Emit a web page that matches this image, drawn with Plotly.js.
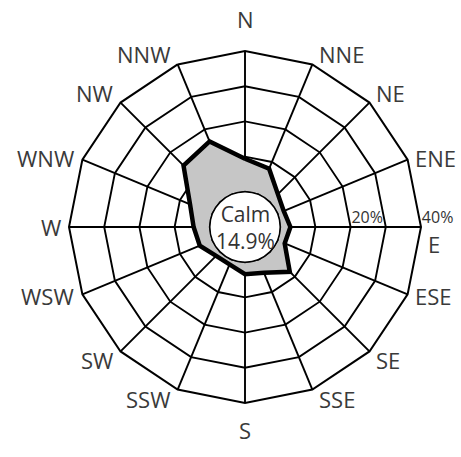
<!DOCTYPE html>
<html><head><meta charset="utf-8">
<script src="https://cdn.plot.ly/plotly-3.0.1.min.js"></script>
<style>html,body{margin:0;padding:0;background:#fff}</style>
</head><body>
<div id="chart" style="width:461px;height:457px"></div>
<script>
const directions = ['N','NNE','NE','ENE','E','ESE','SE','SSE','S','SSW','SW','WSW','W','WNW','NW','NNW'];
const frequency = [9.4,7.9,3.2,1.9,2.9,2.2,8.0,4.1,3.4,1.5,1.6,3.9,4.6,6.9,14.7,16.3];
const calmLabel = 'Calm';
const calmValue = 14.9;
const radialTickVals = [10,20,30,40];
const radialTickText = ['', '20%', '', '40%'];

const W = 461, H = 457;
const cx = 245, cy = 227, R = 176, holeFrac = 0.2;
const radialAngle = 0;
const nb = '\u00a0'.repeat(8);

const trace = {
  type: 'scatterpolar',
  r: frequency.concat([frequency[0]]),
  theta: directions.concat([directions[0]]),
  mode: 'lines',
  fill: 'toself',
  fillcolor: '#c6c6c6',
  line: {color: '#000', width: 4.5},
  hoverinfo: 'skip'
};

// direction labels placed just outside each vertex of the outer polygon
const labelFont = {size: 22, color: '#3a3a3a', family: 'Open Sans, sans-serif'};
const dirAnnotations = directions.map((d, i) => {
  const deg = 90 - i * 360 / directions.length;
  const ang = deg * Math.PI / 180;
  const c = Math.cos(ang), s = Math.sin(ang);
  const vx = cx + R * c, vy = cy - R * s;
  let xanchor = Math.abs(c) < 0.1 ? 'center' : (c > 0 ? 'left' : 'right');
  let yanchor = 'middle', xshift = Math.abs(c) < 0.1 ? 0 : (c > 0 ? 5 : -6), yshift = 0;
  if (Math.abs(c) < 0.1) {
    yanchor = s > 0 ? 'bottom' : 'top';
    yshift = s > 0 ? 15 : -10;
  } else if (s > 0.5) { yanchor = 'bottom'; yshift = -7; }
  else if (s < -0.5) { yanchor = 'top'; yshift = 8; }
  else { yshift = s * 4; }
  // the label sharing the radial-axis spoke moves below the tick labels
  if (Math.abs(((deg - radialAngle) % 360 + 360) % 360) < 0.1) yshift = -17;
  return {
    xref: 'paper', yref: 'paper', x: vx / W, y: (H - vy) / H,
    xanchor, yanchor, xshift, yshift, text: d, showarrow: false, font: labelFont
  };
});

const hr = R * holeFrac;
const layout = {
  width: W, height: H,
  margin: {l:0, r:0, t:0, b:0},
  paper_bgcolor: '#fff',
  showlegend: false,
  font: {family: 'Open Sans, sans-serif', color: '#333'},
  polar: {
    domain: {x: [(cx-R)/W, (cx+R)/W], y: [(H-cy-R)/H, (H-cy+R)/H]},
    gridshape: 'linear',
    hole: holeFrac,
    bgcolor: '#fff',
    angularaxis: {
      type: 'category',
      categoryarray: directions,
      rotation: 90,
      direction: 'clockwise',
      showline: true, linecolor: '#000', linewidth: 2,
      showgrid: true, gridcolor: '#000', gridwidth: 1.9,
      ticks: '', showticklabels: false
    },
    radialaxis: {
      range: [0, 40],
      angle: radialAngle,
      side: 'counterclockwise',
      tickvals: radialTickVals,
      ticktext: radialTickText.map(t => t ? nb + t : t),
      tickangle: 0,
      showline: false,
      ticks: '',
      showgrid: true, gridcolor: '#000', gridwidth: 1.9,
      tickfont: {size: 16, color: '#333'}
    }
  },
  shapes: [{
    type: 'circle', xref: 'paper', yref: 'paper',
    x0: (cx-hr)/W, x1: (cx+hr)/W, y0: (H-cy-hr)/H, y1: (H-cy+hr)/H,
    line: {color: '#000', width: 1.5}, fillcolor: '#fff', layer: 'above'
  }],
  annotations: dirAnnotations.concat([{
    xref: 'paper', yref: 'paper', x: cx/W, y: (H-cy)/H,
    text: calmLabel + '<br>' + calmValue.toFixed(1) + '%',
    showarrow: false, font: {size: 21, color: '#333'}, align: 'center'
  }])
};

Plotly.newPlot('chart', [trace], layout, {displayModeBar: false, staticPlot: true});
</script>
</body></html>
